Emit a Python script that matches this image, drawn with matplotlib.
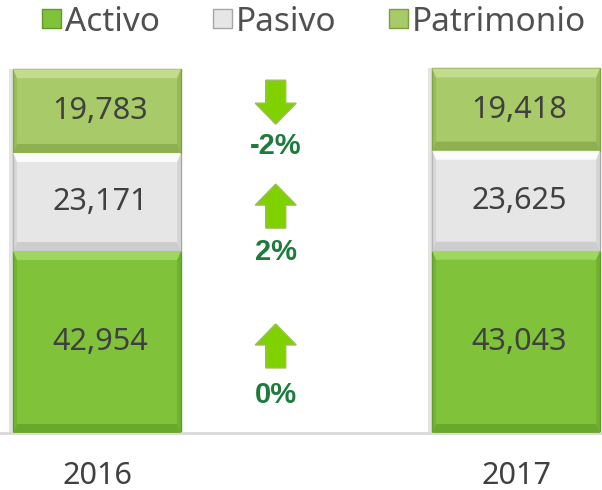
"""
Activo / Pasivo / Patrimonio 2016 vs 2017 - barras apiladas con variación %
"""

import matplotlib
matplotlib.use('Agg')
import matplotlib.pyplot as plt
import matplotlib.transforms as mtransforms
from matplotlib.patches import Polygon, Rectangle

plt.rcParams['font.family'] = ['Noto Sans', 'DejaVu Sans']

# ── datos ──
years = ['2016', '2017']
series_names = ['Activo', 'Pasivo', 'Patrimonio']   # de abajo hacia arriba
activo = [42954, 43043]
pasivo = [23171, 23625]
patrimonio = [19783, 19418]

# ── estilo por serie: (base, claro arriba, oscuro abajo, borde) ──
STYLE = {
    'Activo': ('#80C33B', '#A2DA62', '#67A62A', '#5E9A2A'),
    'Pasivo': ('#E6E6E6', '#FFFFFF', '#CBCBCB', '#A6A6A6'),
    'Patrimonio': ('#A8CA68', '#C6DF93', '#8DAE4E', '#7E9E44'),
}
TEXT_COLOR = '#404040'
PCT_COLOR = '#1E7B3C'
ARROW_FILL = '#7FD200'
ARROW_EDGE = '#9DBB5A'

# posición vertical (fracción del eje) de cada flecha y su etiqueta
ARROW_X = 0.458
ARROW_Y = {'Activo': 0.201, 'Pasivo': 0.524, 'Patrimonio': 0.764}
PCT_Y = {'Activo': 0.088, 'Pasivo': 0.418, 'Patrimonio': 0.663}

fig = plt.figure(figsize=(6.02, 4.90), dpi=100)
ax = fig.add_axes([0, 1 - 433 / 490, 1, 433 / 490])

x = [0, 1]
width = 0.401
ax.set_xlim(-0.2315, 1.205)
ax.set_ylim(0, 102240)

values = {'Activo': activo, 'Pasivo': pasivo, 'Patrimonio': patrimonio}


def bevel(ax, rect, light, dark):
    """dibuja un biselado simple (claro arriba, oscuro abajo) sobre la barra"""
    (x0, y0), (x1, y1) = ax.transData.transform(
        [(rect.get_x(), rect.get_y()),
         (rect.get_x() + rect.get_width(), rect.get_y() + rect.get_height())])
    t, s = 9, 4
    ident = mtransforms.IdentityTransform()
    pieces = [
        ([(x0, y1), (x1, y1), (x1 - s, y1 - t), (x0 + s, y1 - t)], light, 0.9),
        ([(x0, y0), (x1, y0), (x1 - s, y0 + t), (x0 + s, y0 + t)], dark, 0.9),
        ([(x0, y0), (x0 + s, y0 + t), (x0 + s, y1 - t), (x0, y1)], dark, 0.5),
        ([(x1, y0), (x1 - s, y0 + t), (x1 - s, y1 - t), (x1, y1)], dark, 0.6),
    ]
    for pts, col, a in pieces:
        ax.add_patch(Polygon(pts, closed=True, facecolor=col, edgecolor='none',
                             alpha=a, transform=ident, zorder=3, clip_on=False))
    # sombra suave a la izquierda
    ax.add_patch(Rectangle((x0 - 4, y0), 4, y1 - y0, facecolor='#B0B0B0', edgecolor='none',
                           alpha=0.35, transform=ident, zorder=1, clip_on=False))


bottom = [0, 0]
handles = []
for name in series_names:
    base, light, dark, edge = STYLE[name]
    bars = ax.bar(x, values[name], width, bottom=bottom, color=base,
                  edgecolor=edge, linewidth=1.0, zorder=2)
    for rect, v in zip(bars, values[name]):
        bevel(ax, rect, light, dark)
        ax.text(rect.get_x() + rect.get_width() / 2 + 0.008,
                rect.get_y() + rect.get_height() / 2, f'{v:,}',
                ha='center', va='center', fontsize=22, color=TEXT_COLOR, zorder=5)
    bottom = [b + v for b, v in zip(bottom, values[name])]
    handles.append(Rectangle((0, 0), 1, 1, facecolor=base, edgecolor=edge, linewidth=1.0))

# ── flechas y variación % ──
ident = mtransforms.IdentityTransform()
for name in series_names:
    v0, v1 = values[name]
    pct = (v1 / v0 - 1) * 100
    cx, cy = ax.transAxes.transform((ARROW_X, ARROW_Y[name]))
    sgn = 1 if pct >= 0 else -1
    # flecha: largo 44 px, cabeza 21 px, ancho cabeza 41 px, tronco 20 px
    shape = [(-10, -22), (10, -22), (10, 1), (20.5, 1), (0, 22), (-20.5, 1), (-10, 1)]
    pts = [(cx + px, cy + sgn * py) for px, py in shape]
    ax.add_patch(Polygon(pts, closed=True, facecolor=ARROW_FILL, edgecolor=ARROW_EDGE,
                         linewidth=1.0, transform=ident, zorder=4, clip_on=False))
    ax.text(ARROW_X, PCT_Y[name], f'{pct:.0f}%', transform=ax.transAxes,
            ha='center', va='center', fontsize=21, fontweight='bold', color=PCT_COLOR,
            family=['Liberation Sans', 'DejaVu Sans'])

# ── ejes ──
for side in ['top', 'right', 'left']:
    ax.spines[side].set_visible(False)
ax.spines['bottom'].set_color('#D9D9D9')
ax.spines['bottom'].set_linewidth(2)
ax.set_yticks([])
ax.set_xticks(x)
ax.set_xticklabels(years, fontsize=22, color=TEXT_COLOR)
ax.tick_params(axis='x', length=0, pad=20)

# ── leyenda ──
fig.legend(handles, series_names, loc='upper center', bbox_to_anchor=(0.522, 0.992),
           ncol=3, frameon=False, fontsize=24, labelcolor='#505050',
           handlelength=0.57, handleheight=0.5, handletextpad=0.1,
           columnspacing=1.6, borderaxespad=0, borderpad=0.05)

fig.savefig('out.png', dpi=100)
